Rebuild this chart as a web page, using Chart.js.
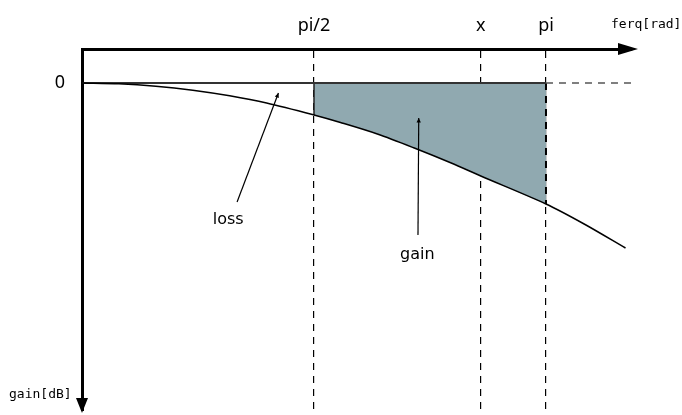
<!DOCTYPE html>
<html>
<head>
<meta charset="utf-8">
<script src="https://cdn.jsdelivr.net/npm/chart.js@4/dist/chart.umd.min.js"></script>
<style>
body { margin: 0; background: #fff; }
#wrap { width: 682px; height: 415px; position: relative; }
</style>
</head>
<body>
<div id="wrap"><canvas id="myChart"></canvas></div>
<script>
// frequency [rad] and gain [dB]
var freq   = [0, 0.25, 0.5, 0.75, 1.0, 1.25, 1.5708, 1.75, 2.0, 2.25, 2.5, 2.70, 3.1416, 3.4, 3.68];
var gainDb = [0, -0.08, -0.32, -0.72, -1.28, -2.0, -3.2, -3.95, -5.1, -6.5, -8.0, -9.3, -12.1, -14.1, -16.5];

var tickValues = [1.5708, 2.70, 3.1416];
var tickLabels = ['pi/2', 'x', 'pi'];

var fillFrom = 1.5708, fillTo = 3.1416;
var zeroEnd = 3.72;

var notes = [
    {text: 'loss', at: [0.99, -13.7], from: [1.05, -11.9], to: [1.33, -1.0]},
    {text: 'gain', at: [2.27, -17.2], from: [2.275, -15.2], to: [2.28, -3.5]}
];

function pts(xs, ys) {
    return xs.map(function (x, i) { return {x: x, y: ys[i]}; });
}

var curve = pts(freq, gainDb);
var gainArea = curve.filter(function (p) { return p.x >= fillFrom - 1e-3 && p.x <= fillTo + 1e-3; });
var edgeAtFrom = [{x: fillFrom, y: 0}, {x: fillFrom, y: gainArea[0].y}];
var edgeAtTo = [{x: fillTo, y: 0}, {x: fillTo, y: gainArea[gainArea.length - 1].y}];

function arrow(c, x1, y1, x2, y2, size) {
    var ang = Math.atan2(y2 - y1, x2 - x1);
    c.beginPath();
    c.moveTo(x1, y1);
    c.lineTo(x2, y2);
    c.stroke();
    c.beginPath();
    c.moveTo(x2, y2);
    c.lineTo(x2 - size * Math.cos(ang - 0.45), y2 - size * Math.sin(ang - 0.45));
    c.lineTo(x2 - size * Math.cos(ang + 0.45), y2 - size * Math.sin(ang + 0.45));
    c.closePath();
    c.fill();
}

var sketch = {
    id: 'sketch',
    afterDraw: function (chart) {
        var c = chart.ctx, xs = chart.scales.x, ys = chart.scales.y, a = chart.chartArea;
        c.save();
        c.fillStyle = '#000';
        c.strokeStyle = '#000';
        // axis arrow heads
        c.beginPath();
        c.moveTo(a.right + 6, a.top);
        c.lineTo(a.right - 14, a.top - 6);
        c.lineTo(a.right - 14, a.top + 6);
        c.closePath();
        c.fill();
        c.beginPath();
        c.moveTo(a.left, a.bottom + 3);
        c.lineTo(a.left - 6, a.bottom - 12);
        c.lineTo(a.left + 6, a.bottom - 12);
        c.closePath();
        c.fill();

        // axis names
        c.font = '13px "DejaVu Sans Mono"';
        c.textBaseline = 'middle';
        c.textAlign = 'left';
        c.fillText('ferq[rad]', 611, 25);
        c.fillText('gain[dB]', 9, 395);

        // annotations
        c.lineWidth = 1.2;
        c.font = '16px "DejaVu Sans"';
        c.textAlign = 'center';
        notes.forEach(function (n) {
            c.fillText(n.text, xs.getPixelForValue(n.at[0]), ys.getPixelForValue(n.at[1]));
            arrow(c, xs.getPixelForValue(n.from[0]), ys.getPixelForValue(n.from[1]),
                  xs.getPixelForValue(n.to[0]), ys.getPixelForValue(n.to[1]), 5);
        });
        c.restore();
    }
};

var ctx = document.getElementById('myChart').getContext('2d');
var myChart = new Chart(ctx, {
    type: 'line',
    data: {
        datasets: [{
            data: gainArea,
            borderWidth: 0,
            backgroundColor: '#90a9b0',
            fill: 'origin',
            tension: 0.3,
            pointRadius: 0,
            order: 5
        }, {
            data: edgeAtFrom,
            borderColor: '#222',
            borderWidth: 1.5,
            pointRadius: 0,
            order: 4
        }, {
            data: edgeAtTo,
            borderColor: '#000',
            borderWidth: 2,
            borderDash: [7, 6],
            pointRadius: 0,
            order: 4
        }, {
            data: [{x: 0, y: 0}, {x: fillTo, y: 0}],
            borderColor: '#333',
            borderWidth: 2,
            pointRadius: 0,
            order: 3
        }, {
            data: [{x: fillTo, y: 0}, {x: zeroEnd, y: 0}],
            borderColor: '#555',
            borderWidth: 1.5,
            borderDash: [7, 6],
            pointRadius: 0,
            order: 3
        }, {
            data: curve,
            borderColor: '#000',
            borderWidth: 1.5,
            tension: 0.3,
            pointRadius: 0,
            order: 1
        }]
    },
    options: {
        responsive: true,
        maintainAspectRatio: false,
        animation: false,
        layout: { padding: { left: 0, top: 0, right: 50, bottom: 5 } },
        plugins: {
            legend: { display: false },
            tooltip: { enabled: false }
        },
        scales: {
            x: {
                type: 'linear',
                position: 'top',
                min: 0,
                max: 3.724,
                afterFit: function (s) { s.height = 49; },
                afterBuildTicks: function (s) {
                    s.ticks = tickValues.map(function (v) { return {value: v}; });
                },
                ticks: {
                    autoSkip: false,
                    maxRotation: 0,
                    padding: 12,
                    color: '#000',
                    font: { family: 'Noto Sans', size: 18 },
                    callback: function (v, i) { return tickLabels[i]; }
                },
                grid: {
                    color: '#000',
                    lineWidth: 1.2,
                    drawTicks: false
                },
                border: { color: '#000', width: 3, dash: [7, 6] }
            },
            y: {
                type: 'linear',
                min: -32.7,
                max: 3.4,
                afterFit: function (s) {
                    s.width = 82;
                    s.paddingTop = 0;
                    s.paddingBottom = 0;
                },
                afterBuildTicks: function (s) { s.ticks = [{value: 0}]; },
                ticks: {
                    padding: 17,
                    color: '#000',
                    font: { family: 'Noto Sans', size: 18 },
                    callback: function () { return '0'; }
                },
                grid: { display: false, drawTicks: false },
                border: { color: '#000', width: 3 }
            }
        }
    },
    plugins: [sketch]
});
</script>
</body>
</html>
